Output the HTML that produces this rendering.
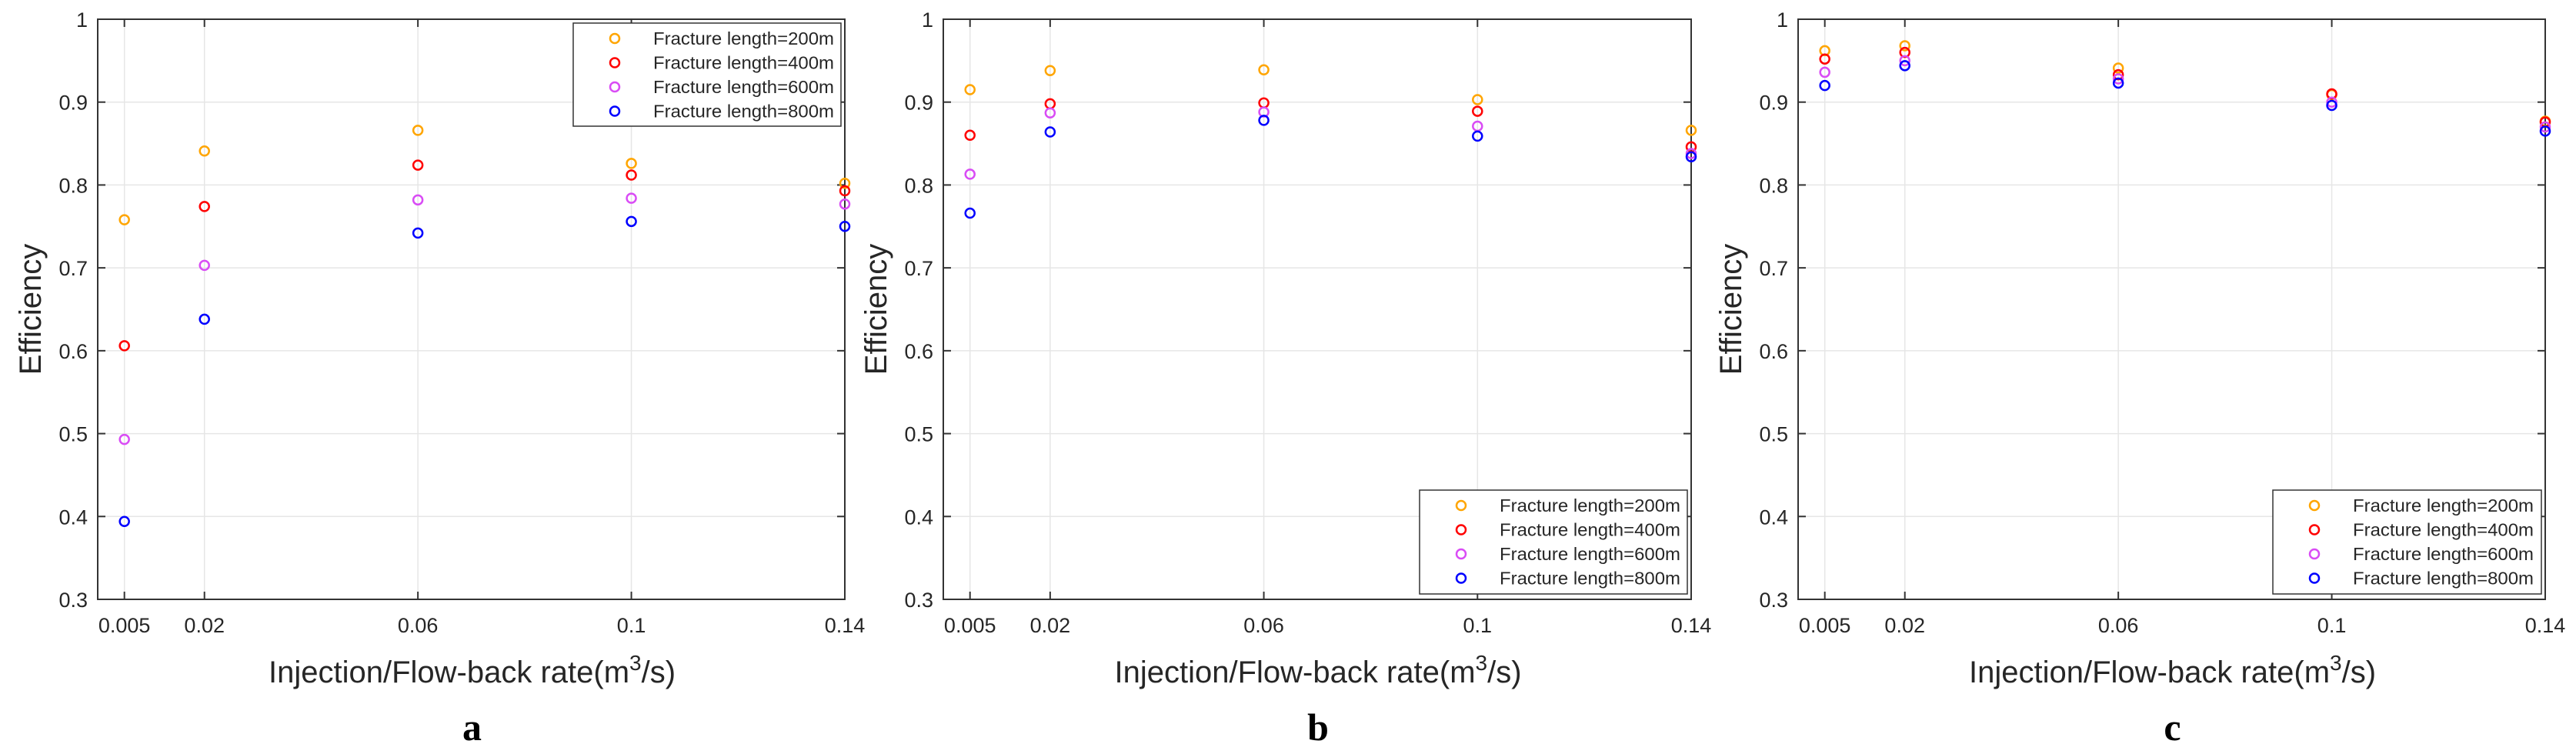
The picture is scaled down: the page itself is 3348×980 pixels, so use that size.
<!DOCTYPE html>
<html><head><meta charset="utf-8">
<style>
html,body{margin:0;padding:0;background:#fff;}
svg{display:block;}
text{font-family:"Liberation Sans",Arial,sans-serif;fill:#262626;}
</style></head>
<body>
<svg id="fig" width="3348" height="980" viewBox="0 0 3348 980" xmlns="http://www.w3.org/2000/svg"></svg>
<script>
const xValues = [0.005, 0.02, 0.06, 0.1, 0.14];
const xTickLabels = ["0.005", "0.02", "0.06", "0.1", "0.14"];
const yTicks = [0.3, 0.4, 0.5, 0.6, 0.7, 0.8, 0.9, 1];
const yTickLabels = ["0.3", "0.4", "0.5", "0.6", "0.7", "0.8", "0.9", "1"];
const seriesNames = ["Fracture length=200m", "Fracture length=400m", "Fracture length=600m", "Fracture length=800m"];
const seriesColors = ["#FFA500", "#FF0000", "#D94CF5", "#0000FF"];
const panelA200 = [0.758, 0.841, 0.866, 0.826, 0.802];
const panelA400 = [0.606, 0.774, 0.824, 0.812, 0.793];
const panelA600 = [0.493, 0.703, 0.782, 0.784, 0.777];
const panelA800 = [0.394, 0.638, 0.742, 0.756, 0.750];
const panelB200 = [0.915, 0.938, 0.939, 0.903, 0.866];
const panelB400 = [0.860, 0.898, 0.899, 0.889, 0.846];
const panelB600 = [0.813, 0.887, 0.888, 0.871, 0.838];
const panelB800 = [0.766, 0.864, 0.878, 0.859, 0.834];
const panelC200 = [0.962, 0.968, 0.941, 0.909, 0.877];
const panelC400 = [0.952, 0.960, 0.933, 0.910, 0.876];
const panelC600 = [0.936, 0.950, 0.928, 0.900, 0.870];
const panelC800 = [0.920, 0.944, 0.923, 0.896, 0.865];

const NS = "http://www.w3.org/2000/svg";
const svg = document.getElementById("fig");
function mk(tag, attrs, parent, txt){
  const e = document.createElementNS(NS, tag);
  for (const k in attrs) e.setAttribute(k, attrs[k]);
  if (txt !== undefined) e.textContent = txt;
  (parent || svg).appendChild(e);
  return e;
}

const panels = [
  {id:"a", left:127, right:1098, series:[panelA200,panelA400,panelA600,panelA800], leg:{x:745,y:30,w:348,h:134}},
  {id:"b", left:1226, right:2198, series:[panelB200,panelB400,panelB600,panelB800], leg:{x:1845,y:637,w:348,h:135}},
  {id:"c", left:2337, right:3308, series:[panelC200,panelC400,panelC600,panelC800], leg:{x:2954,y:637,w:349,h:135}}
];
const plotTop = 25, plotBottom = 779, xMin = 0, xMax = 0.14, yMin = 0.3, yMax = 1;

panels.forEach(p => {
  const g = mk("g", {});
  
  
  const xs = v => p.left + (v - xMin) / (xMax - xMin) * (p.right - p.left);
  const ys = v => plotBottom - (v - yMin) / (yMax - yMin) * (plotBottom - plotTop);

  const bg = mk("rect", {x:p.left, y:plotTop, width:p.right-p.left, height:plotBottom-plotTop, fill:"#fff"}, g);
  
  

  yTicks.forEach((t, i) => {
    const y = ys(t);
    const gl = mk("line", {x1:p.left, x2:p.right, y1:y, y2:y, stroke:"#e6e6e6", "stroke-width":1.5}, g);
    
    
    mk("line", {x1:p.left, x2:p.left+10, y1:y, y2:y, stroke:"#333", "stroke-width":2}, g);
    mk("line", {x1:p.right-10, x2:p.right, y1:y, y2:y, stroke:"#333", "stroke-width":2}, g);
    const lb = mk("text", {x:p.left-13, y:y+10, "text-anchor":"end", "font-size":27}, g, yTickLabels[i]);
    
    
  });
  xValues.forEach((t, i) => {
    const x = xs(t);
    const gl = mk("line", {x1:x, x2:x, y1:plotTop, y2:plotBottom, stroke:"#e6e6e6", "stroke-width":1.5}, g);
    
    
    mk("line", {x1:x, x2:x, y1:plotBottom-10, y2:plotBottom, stroke:"#333", "stroke-width":2}, g);
    mk("line", {x1:x, x2:x, y1:plotTop, y2:plotTop+10, stroke:"#333", "stroke-width":2}, g);
    const lb = mk("text", {x:x, y:822, "text-anchor":"middle", "font-size":27}, g, xTickLabels[i]);
    
    
  });
  const frame = mk("rect", {x:p.left, y:plotTop, width:p.right-p.left, height:plotBottom-plotTop, fill:"none", stroke:"#333", "stroke-width":2}, g);
  
  

  p.series.forEach((arr, si) => {
    arr.forEach((v, i) => {
      const c = mk("circle", {cx:xs(xValues[i]), cy:ys(v), r:6, fill:"none", stroke:seriesColors[si], "stroke-width":2.5}, g);
      
      
    });
  });

  const L = p.leg;
  const lg = mk("g", {}, g);
  
  
  mk("rect", {x:L.x, y:L.y, width:L.w, height:L.h, fill:"#fff", stroke:"#333", "stroke-width":1.5}, lg);
  seriesNames.forEach((n, si) => {
    const cy = L.y + 20 + si * 31.5;
    const m = mk("circle", {cx:L.x+54, cy:cy, r:6, fill:"none", stroke:seriesColors[si], "stroke-width":2.5}, lg);
    
    
    const t = mk("text", {x:L.x+104, y:cy+8, "font-size":23, textLength:235, lengthAdjust:"spacingAndGlyphs"}, lg, n);
    
    
  });

  const cx = (p.left + p.right) / 2;
  const xt = mk("text", {x:cx+1, y:887, "text-anchor":"middle", "font-size":40}, g);
  
  
  mk("tspan", {}, xt, "Injection/Flow-back rate(m");
  mk("tspan", {dy:-16, "font-size":28}, xt, "3");
  mk("tspan", {dy:16}, xt, "/s)");
  const yt = mk("text", {x:0, y:0, "text-anchor":"middle", "font-size":40, transform:`translate(${p.left-74},402) rotate(-90)`}, g, "Efficiency");
  
  
  const pl = mk("text", {x:cx+1, y:962, "text-anchor":"middle", "font-size":50, "font-weight":"bold", style:"font-family:'Liberation Serif',serif;fill:#000"}, g, p.id);
  
  
});
</script>
</body></html>
